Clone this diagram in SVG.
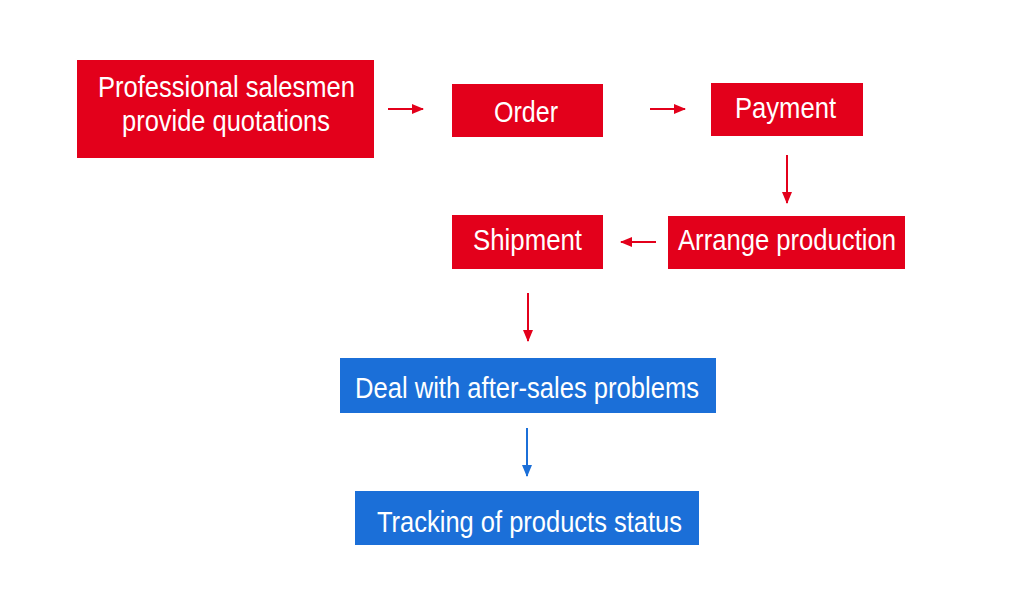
<svg xmlns="http://www.w3.org/2000/svg" width="1024" height="591" viewBox="0 0 1024 591">
<style>
.red{fill:#E3001B}
.blue{fill:#1B6FD8}
.t{font-family:"Liberation Sans",Arial,sans-serif;font-size:30px;fill:#ffffff}
.cr{stroke:#E3001B;stroke-width:2;fill:none}
.cb{stroke:#1B6FD8;stroke-width:2;fill:none}
</style>
<defs>
<marker id="ar" markerUnits="userSpaceOnUse" markerWidth="12" markerHeight="12" viewBox="0 0 12 12" refX="11" refY="6" orient="auto">
<path d="M0,1 L12,6 L0,11 Z" fill="#E3001B"/>
</marker>
<marker id="ab" markerUnits="userSpaceOnUse" markerWidth="12" markerHeight="12" viewBox="0 0 12 12" refX="11" refY="6" orient="auto">
<path d="M0,1 L12,6 L0,11 Z" fill="#1B6FD8"/>
</marker>
</defs>
<rect width="1024" height="591" fill="#ffffff"/>
<g id="quotations">
<rect class="red" x="77" y="60" width="297" height="98"/>
<text class="t" x="98" y="97" textLength="257" lengthAdjust="spacingAndGlyphs">Professional salesmen</text>
<text class="t" x="122" y="131" textLength="208" lengthAdjust="spacingAndGlyphs">provide quotations</text>
</g>
<g id="order">
<rect class="red" x="452" y="84" width="151" height="53"/>
<text class="t" x="494" y="122" textLength="64" lengthAdjust="spacingAndGlyphs">Order</text>
</g>
<g id="payment">
<rect class="red" x="711" y="83" width="152" height="53"/>
<text class="t" x="735" y="118" textLength="101" lengthAdjust="spacingAndGlyphs">Payment</text>
</g>
<g id="arrange">
<rect class="red" x="668" y="216" width="237" height="53"/>
<text class="t" x="678" y="250" textLength="218" lengthAdjust="spacingAndGlyphs">Arrange production</text>
</g>
<g id="shipment">
<rect class="red" x="452" y="215" width="151" height="54"/>
<text class="t" x="473" y="250" textLength="109" lengthAdjust="spacingAndGlyphs">Shipment</text>
</g>
<g id="aftersales">
<rect class="blue" x="340" y="358" width="376" height="55"/>
<text class="t" x="355" y="398" textLength="344" lengthAdjust="spacingAndGlyphs">Deal with after-sales problems</text>
</g>
<g id="tracking">
<rect class="blue" x="355" y="491" width="344" height="54"/>
<text class="t" x="377" y="532" textLength="305" lengthAdjust="spacingAndGlyphs">Tracking of products status</text>
</g>
<g id="connectors">
<line class="cr" x1="388" y1="109" x2="423" y2="109" marker-end="url(#ar)"/>
<line class="cr" x1="650" y1="109" x2="685" y2="109" marker-end="url(#ar)"/>
<line class="cr" x1="787" y1="155" x2="787" y2="203" marker-end="url(#ar)"/>
<line class="cr" x1="656" y1="242" x2="621" y2="242" marker-end="url(#ar)"/>
<line class="cr" x1="528" y1="293" x2="528" y2="341" marker-end="url(#ar)"/>
<line class="cb" x1="527" y1="428" x2="527" y2="476" marker-end="url(#ab)"/>
</g>
</svg>
